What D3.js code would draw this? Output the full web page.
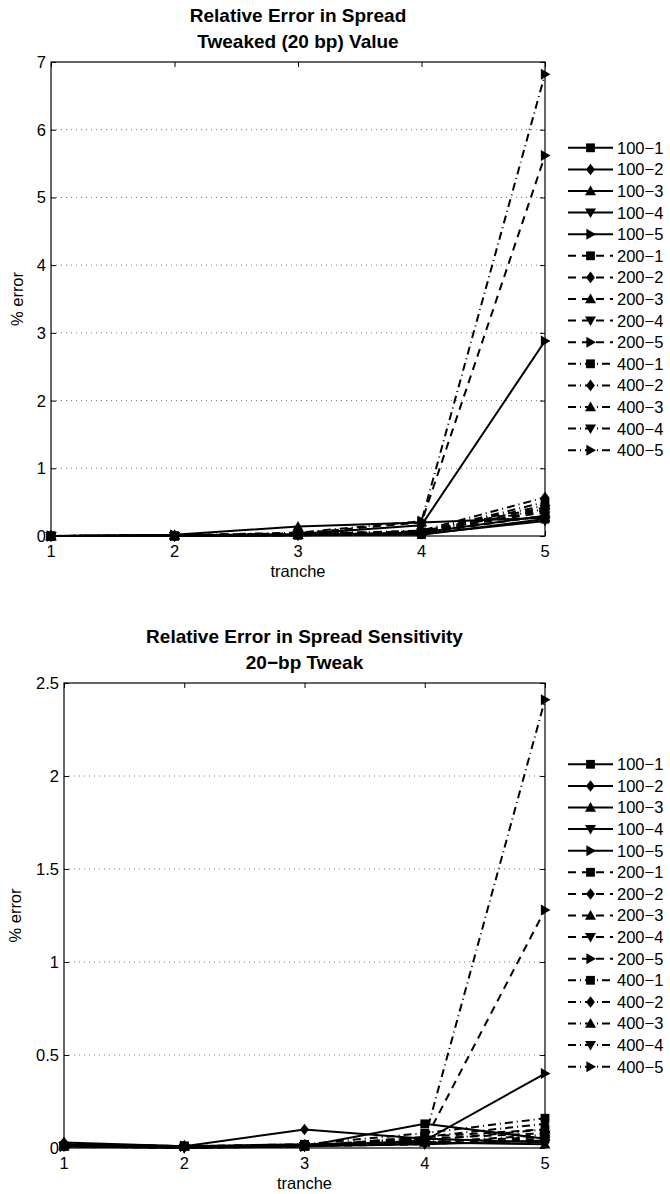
<!DOCTYPE html>
<html>
<head>
<meta charset="utf-8">
<script src="https://cdn.jsdelivr.net/npm/d3@7"></script>
<style>
body { margin: 0; background: #fff; }
svg { font-family: "Liberation Sans", Arial, Helvetica, sans-serif; }
.grid line { stroke: #777; stroke-dasharray: 1,4; }
.axisline { stroke: #000; stroke-width: 1.2; fill: none; }
</style>
</head>
<body>
<svg width="670" height="1194"></svg>
<script>
// tranche numbers on the x axis
var tranches = [1, 2, 3, 4, 5]
var seriesNames = ["100\u22121", "100\u22122", "100\u22123", "100\u22124", "100\u22125",
                   "200\u22121", "200\u22122", "200\u22123", "200\u22124", "200\u22125",
                   "400\u22121", "400\u22122", "400\u22123", "400\u22124", "400\u22125"]

// % error of tweaked (20 bp) value, one row per series
var valueError = [
	[0, 0, 0.01, 0.02, 0.25],
	[0, 0, 0.02, 0.05, 0.30],
	[0, 0.02, 0.14, 0.20, 0.27],
	[0, 0, 0.01, 0.03, 0.22],
	[0, 0.01, 0.03, 0.16, 2.88],
	[0, 0, 0.02, 0.05, 0.38],
	[0, 0, 0.03, 0.07, 0.42],
	[0, 0.01, 0.02, 0.06, 0.35],
	[0, 0, 0.01, 0.04, 0.30],
	[0, 0.01, 0.04, 0.20, 5.62],
	[0, 0, 0.02, 0.06, 0.50],
	[0, 0, 0.03, 0.08, 0.57],
	[0, 0.01, 0.02, 0.07, 0.45],
	[0, 0, 0.01, 0.05, 0.40],
	[0, 0.01, 0.05, 0.22, 6.82]
]

// % error of spread sensitivity, 20-bp tweak
var sensError = [
	[0.01, 0.01, 0.01, 0.13, 0.05],
	[0.03, 0.01, 0.10, 0.05, 0.03],
	[0.02, 0.01, 0.02, 0.03, 0.02],
	[0.01, 0.00, 0.01, 0.02, 0.04],
	[0.01, 0.01, 0.01, 0.04, 0.40],
	[0.01, 0.01, 0.01, 0.06, 0.10],
	[0.02, 0.01, 0.01, 0.05, 0.08],
	[0.01, 0.01, 0.01, 0.03, 0.06],
	[0.01, 0.00, 0.01, 0.02, 0.05],
	[0.01, 0.01, 0.01, 0.04, 1.28],
	[0.01, 0.01, 0.02, 0.08, 0.16],
	[0.02, 0.01, 0.01, 0.06, 0.13],
	[0.01, 0.01, 0.01, 0.04, 0.10],
	[0.01, 0.00, 0.01, 0.03, 0.07],
	[0.01, 0.01, 0.01, 0.05, 2.41]
]

var valueTicks = [0, 1, 2, 3, 4, 5, 6, 7]
var sensTicks = [0, 0.5, 1, 1.5, 2, 2.5]

var svg = d3.select("svg")

// marker outline, r is the half size
function markerPath(kind, r) {
	var s = r * 0.8
	if (kind === 0)
		return "M" + (-s) + "," + (-s) + "H" + s + "V" + s + "H" + (-s) + "Z"
	if (kind === 1)
		return "M0," + (-r * 1.05) + "L" + (r * 0.8) + ",0L0," + (r * 1.05) + "L" + (-r * 0.8) + ",0Z"
	if (kind === 2)
		return "M0," + (-r) + "L" + r + "," + (r * 0.75) + "L" + (-r) + "," + (r * 0.75) + "Z"
	if (kind === 3)
		return "M0," + r + "L" + r + "," + (-r * 0.75) + "L" + (-r) + "," + (-r * 0.75) + "Z"
	return "M" + r + ",0L" + (-r * 0.75) + "," + (-r) + "L" + (-r * 0.75) + "," + r + "Z"
}

function dashFor(i) {
	var group = Math.floor(i / 5)
	if (group === 0) return null
	if (group === 1) return "8,6"
	return "8,4,1,4"
}

function renderPanel(box, data, yTicks, yMax, titles, ylabelX) {
	var x = d3.scaleLinear().domain([1, 5]).range([box.left, box.right])
	var y = d3.scaleLinear().domain([0, yMax]).range([box.bottom, box.top])
	var g = svg.append("g")

	// horizontal grid
	g.append("g")
	 .attr("class", "grid")
	 .selectAll("line")
	 .data(yTicks.slice(1, -1))
	 .enter()
	 .append("line")
	 .attr("x1", box.left).attr("x2", box.right)
	 .attr("y1", function(d) { return y(d) }).attr("y2", function(d) { return y(d) })

	// ticks on all four sides, pointing inward
	var ax = g.append("g")
	ax.append("g").attr("transform", "translate(0," + box.bottom + ")")
	  .call(d3.axisTop(x).tickValues(tranches).tickSize(5).tickFormat(""))
	ax.append("g").attr("transform", "translate(0," + box.top + ")")
	  .call(d3.axisBottom(x).tickValues(tranches).tickSize(5).tickFormat(""))
	ax.append("g").attr("transform", "translate(" + box.left + ",0)")
	  .call(d3.axisRight(y).tickValues(yTicks).tickSize(5).tickFormat(""))
	ax.append("g").attr("transform", "translate(" + box.right + ",0)")
	  .call(d3.axisLeft(y).tickValues(yTicks).tickSize(5).tickFormat(""))
	ax.selectAll(".domain").remove()
	ax.selectAll(".tick line").attr("stroke", "#000").attr("stroke-width", 1)

	g.append("rect")
	 .attr("class", "axisline")
	 .attr("x", box.left).attr("y", box.top)
	 .attr("width", box.right - box.left).attr("height", box.bottom - box.top)

	// tick labels
	g.selectAll(".xlab")
	 .data(tranches)
	 .enter()
	 .append("text")
	 .attr("x", function(d) { return x(d) })
	 .attr("y", box.bottom + 21)
	 .attr("text-anchor", "middle")
	 .attr("font-size", 16.5)
	 .text(function(d) { return d })

	g.selectAll(".ylab")
	 .data(yTicks)
	 .enter()
	 .append("text")
	 .attr("x", box.left - 5)
	 .attr("y", function(d) { return y(d) })
	 .attr("dy", "0.36em")
	 .attr("text-anchor", "end")
	 .attr("font-size", 16.5)
	 .text(function(d) { return d })

	g.append("text")
	 .attr("x", (box.left + box.right) / 2)
	 .attr("y", box.bottom + 41)
	 .attr("text-anchor", "middle")
	 .attr("font-size", 16.5)
	 .text("tranche")

	g.append("text")
	 .attr("transform", "translate(" + ylabelX + "," + ((box.top + box.bottom) / 2) + ") rotate(-90)")
	 .attr("text-anchor", "middle")
	 .attr("font-size", 16.5)
	 .text("% error")

	titles.forEach(function(t, i) {
		g.append("text")
		 .attr("x", (box.left + box.right) / 2)
		 .attr("y", box.top - 40 + i * 26)
		 .attr("text-anchor", "middle")
		 .attr("font-size", 19)
		 .attr("font-weight", "bold")
		 .text(t)
	})

	var line = d3.line()
	             .x(function(d, i) { return x(tranches[i]) })
	             .y(function(d) { return y(d) })

	data.forEach(function(vals, si) {
		g.append("path")
		 .datum(vals)
		 .attr("d", line)
		 .attr("fill", "none")
		 .attr("stroke", "#000")
		 .attr("stroke-width", 2)
		 .attr("stroke-dasharray", dashFor(si))
		g.selectAll(".m" + si)
		 .data(vals)
		 .enter()
		 .append("path")
		 .attr("transform", function(d, i) { return "translate(" + x(tranches[i]) + "," + y(d) + ")" })
		 .attr("d", markerPath(si % 5, 5.5))
		 .attr("fill", "#000")
	})

	// legend, centred on the axes
	var step = 21.6
	var ly0 = (box.top + box.bottom) / 2 - step * (seriesNames.length - 1) / 2
	seriesNames.forEach(function(name, si) {
		var ly = ly0 + si * step
		var lg = g.append("g").attr("transform", "translate(568," + ly + ")")
		lg.append("line")
		  .attr("x1", 0).attr("x2", 45)
		  .attr("stroke", "#000")
		  .attr("stroke-width", 2)
		  .attr("stroke-dasharray", dashFor(si))
		lg.append("path")
		  .attr("transform", "translate(22.5,0)")
		  .attr("d", markerPath(si % 5, 5.5))
		  .attr("fill", "#000")
		lg.append("text")
		  .attr("x", 49)
		  .attr("dy", "0.36em")
		  .attr("font-size", 16.5)
		  .text(name)
	})
}

renderPanel({left: 51, right: 545, top: 62, bottom: 536}, valueError, valueTicks, 7,
            ["Relative Error in Spread", "Tweaked (20 bp) Value"], 23)
renderPanel({left: 64, right: 545, top: 683, bottom: 1148}, sensError, sensTicks, 2.5,
            ["Relative Error in Spread Sensitivity", "20\u2212bp Tweak"], 21)
</script>
</body>
</html>
